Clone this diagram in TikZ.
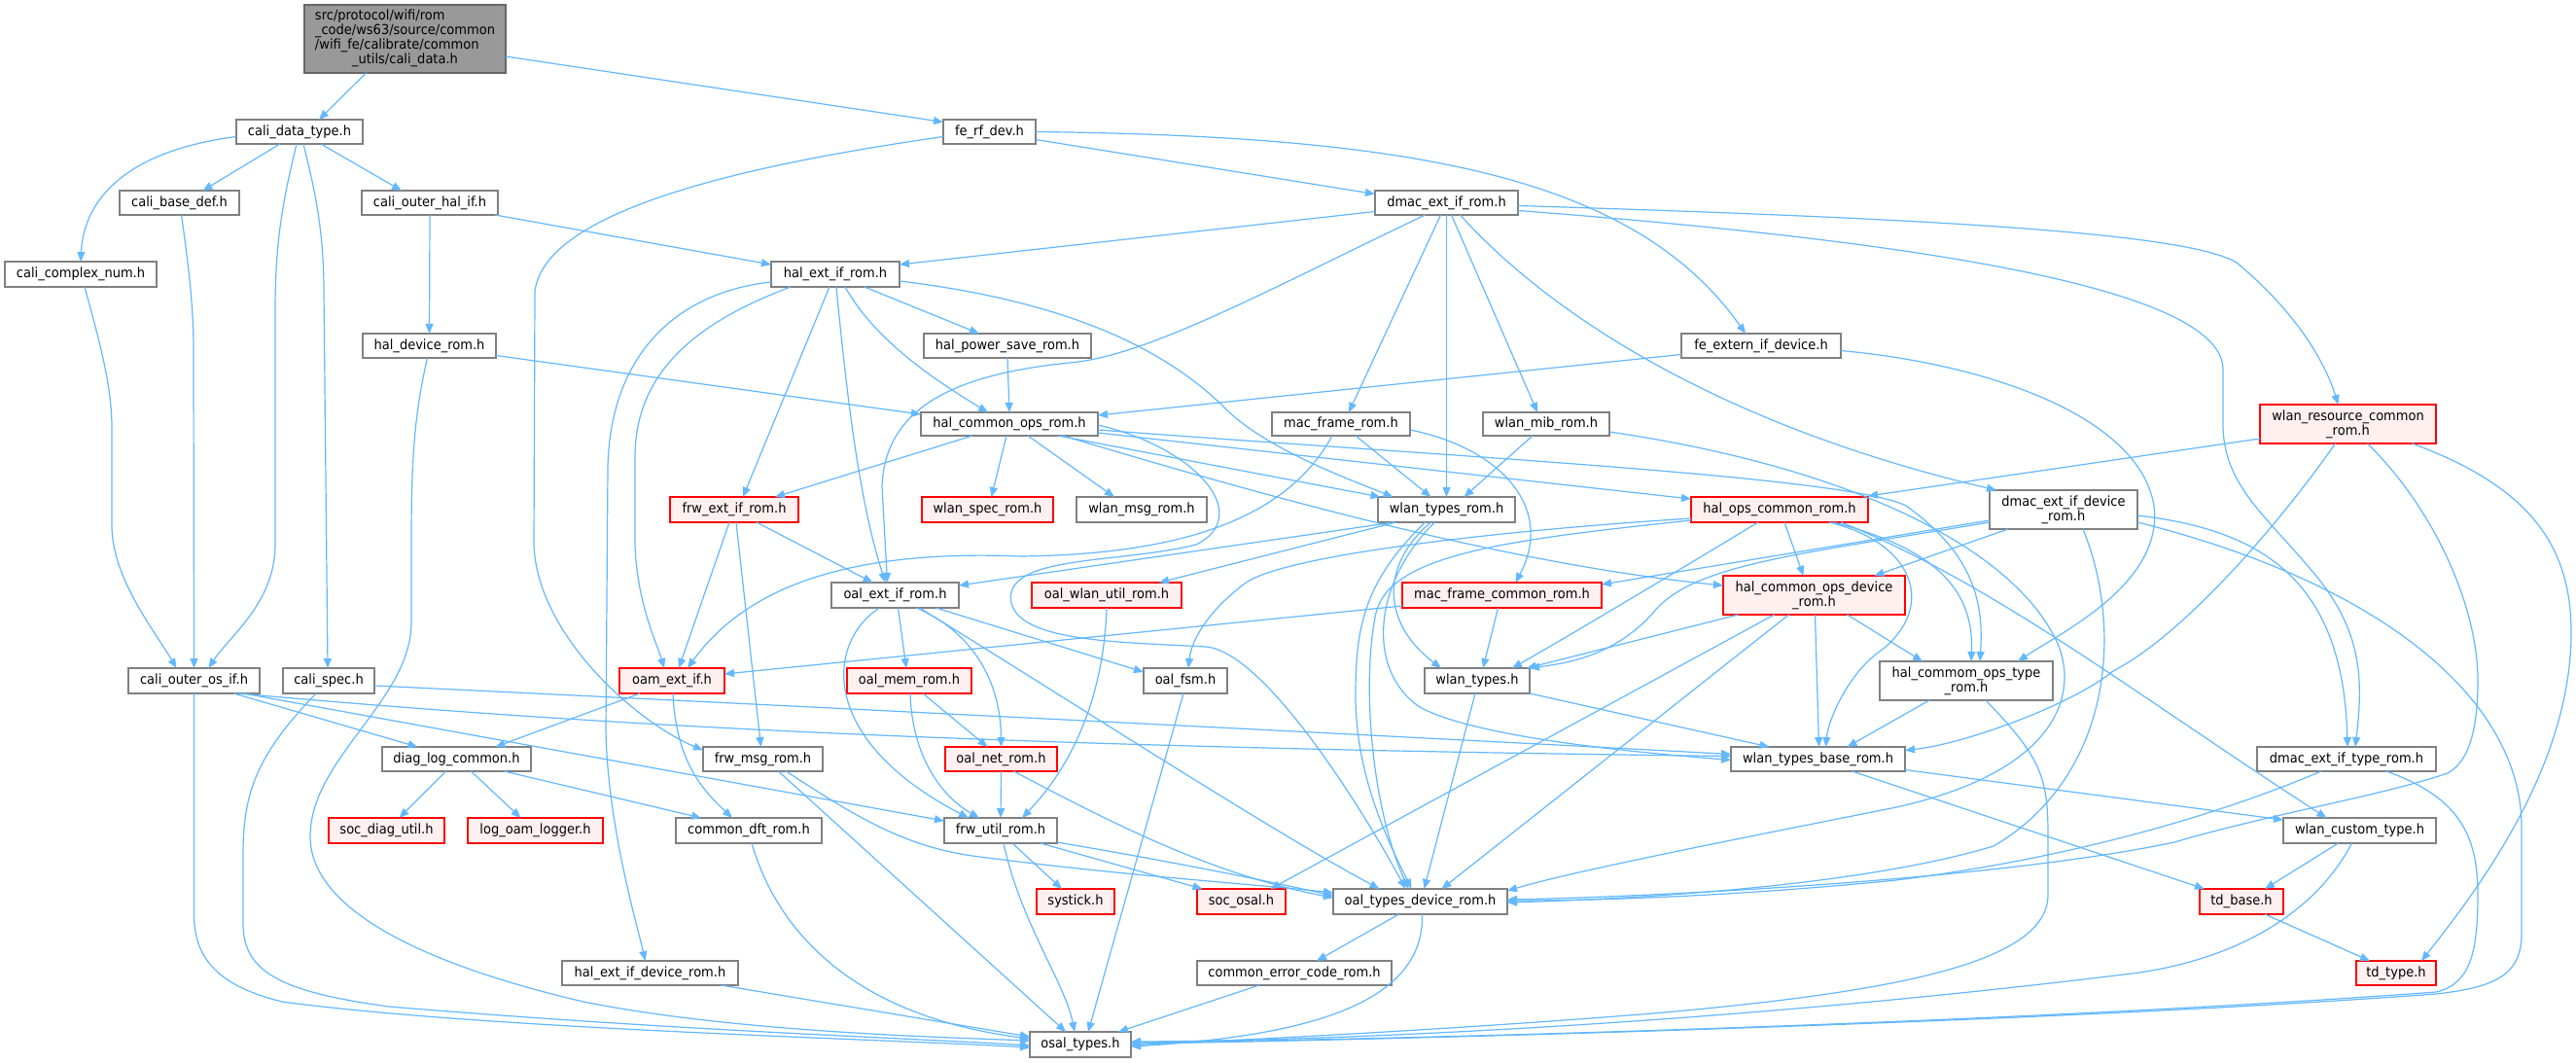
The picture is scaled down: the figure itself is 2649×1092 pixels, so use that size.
\documentclass[tikz,border=0pt]{standalone}
\usepackage{fontspec}
\newfontfamily\nodefont{DejaVu Sans}[FakeStretch=0.93]
\usetikzlibrary{arrows.meta}
\definecolor{edgeblue}{HTML}{63B8FF}
\definecolor{ndgray}{HTML}{808080}
\definecolor{rdfill}{HTML}{FFF0F0}
\definecolor{rootfill}{HTML}{999999}
\definecolor{rootdraw}{HTML}{666666}
\tikzset{
  gbox/.style={draw=ndgray, line width=1.5pt, fill=white, inner sep=0pt, outer sep=0pt, align=center, font=\nodefont\fontsize{14}{15}\selectfont},
  rbox/.style={gbox, draw=red, fill=rdfill},
  rootbox/.style={gbox, draw=rootdraw, fill=rootfill},
  edg/.style={draw=edgeblue, line width=1.2pt, -{Triangle[length=10pt,width=8pt]}},
}
\newcommand{\mk}[7]{\node[#1, minimum width={(#4)-(#3)}, minimum height={(#6)-(#5)}] (#2) at ({((#3)+(#4))/2},{((#5)+(#6))/2}) {#7};}
\begin{document}
\begin{tikzpicture}[x=1pt,y=-1pt]
\fill[white] (0,0) rectangle (2649,1092);
\useasboundingbox (0,0) rectangle (2649,1092);
% nodes
\mk{rootbox}{root}{313}{520}{5}{75}{\begin{tabular}{@{}l@{}}src/protocol/wifi/rom\\\_code/ws63/source/common\\/wifi\_fe/calibrate/common\\\multicolumn{1}{@{}c@{}}{\_utils/cali\_data.h}\end{tabular}}
\mk{gbox}{cdt}{243}{373}{123}{148}{cali\_data\_type.h}
\mk{gbox}{frd}{970}{1065}{123}{148}{fe\_rf\_dev.h}
\mk{gbox}{cbd}{123}{246}{196}{221}{cali\_base\_def.h}
\mk{gbox}{cohi}{372}{512}{196}{221}{cali\_outer\_hal\_if.h}
\mk{gbox}{deir}{1414}{1561}{196}{221}{dmac\_ext\_if\_rom.h}
\mk{gbox}{ccn}{5}{161}{269}{295}{cali\_complex\_num.h}
\mk{gbox}{heir}{793}{925}{269}{295}{hal\_ext\_if\_rom.h}
\mk{gbox}{hdr}{373}{510}{343}{368}{hal\_device\_rom.h}
\mk{gbox}{hpsr}{950}{1122}{343}{368}{hal\_power\_save\_rom.h}
\mk{gbox}{feid}{1729}{1893}{343}{368}{fe\_extern\_if\_device.h}
\mk{gbox}{hcor}{947}{1129}{424}{448}{hal\_common\_ops\_rom.h}
\mk{gbox}{mfr}{1308}{1450}{424}{448}{mac\_frame\_rom.h}
\mk{gbox}{wmibr}{1525}{1655}{424}{448}{wlan\_mib\_rom.h}
\mk{rbox}{wrcr}{2324}{2505}{416}{456}{wlan\_resource\_common\\\_rom.h}
\mk{rbox}{feir}{689}{821}{511}{537}{frw\_ext\_if\_rom.h}
\mk{rbox}{wsr}{948}{1083}{511}{537}{wlan\_spec\_rom.h}
\mk{gbox}{wmsgr}{1107}{1241}{511}{537}{wlan\_msg\_rom.h}
\mk{gbox}{wtr}{1417}{1558}{511}{537}{wlan\_types\_rom.h}
\mk{rbox}{hocr}{1739}{1921}{511}{537}{hal\_ops\_common\_rom.h}
\mk{gbox}{deidr}{2046}{2198}{504}{544}{dmac\_ext\_if\_device\\\_rom.h}
\mk{gbox}{oeir}{855}{986}{599}{625}{oal\_ext\_if\_rom.h}
\mk{rbox}{owur}{1061}{1215}{599}{625}{oal\_wlan\_util\_rom.h}
\mk{rbox}{mfcr}{1442}{1647}{599}{625}{mac\_frame\_common\_rom.h}
\mk{rbox}{hcodr}{1772}{1959}{592}{632}{hal\_common\_ops\_device\\\_rom.h}
\mk{gbox}{coos}{132}{267}{687}{713}{cali\_outer\_os\_if.h}
\mk{gbox}{cspec}{291}{385}{687}{713}{cali\_spec.h}
\mk{rbox}{oam}{637}{745}{687}{713}{oam\_ext\_if.h}
\mk{rbox}{omr}{871}{999}{687}{713}{oal\_mem\_rom.h}
\mk{gbox}{ofsm}{1176}{1262}{687}{713}{oal\_fsm.h}
\mk{gbox}{wt}{1465}{1573}{687}{713}{wlan\_types.h}
\mk{gbox}{hcotr}{1933}{2111}{680}{720}{hal\_commom\_ops\_type\\\_rom.h}
\mk{gbox}{dlc}{393}{546}{768}{793}{diag\_log\_common.h}
\mk{gbox}{fmr}{723}{846}{768}{793}{frw\_msg\_rom.h}
\mk{rbox}{onr}{972}{1087}{768}{793}{oal\_net\_rom.h}
\mk{gbox}{wtbr}{1780}{1959}{768}{793}{wlan\_types\_base\_rom.h}
\mk{gbox}{deitr}{2321}{2505}{768}{793}{dmac\_ext\_if\_type\_rom.h}
\mk{rbox}{sdu}{338}{457}{841}{867}{soc\_diag\_util.h}
\mk{rbox}{lol}{481}{620}{841}{867}{log\_oam\_logger.h}
\mk{gbox}{cdft}{695}{845}{841}{867}{common\_dft\_rom.h}
\mk{gbox}{fur}{971}{1087}{841}{867}{frw\_util\_rom.h}
\mk{gbox}{wct}{2348}{2505}{841}{867}{wlan\_custom\_type.h}
\mk{rbox}{syst}{1066}{1146}{914}{940}{systick.h}
\mk{rbox}{sosal}{1231}{1322}{914}{940}{soc\_osal.h}
\mk{gbox}{otdr}{1371}{1550}{914}{940}{oal\_types\_device\_rom.h}
\mk{rbox}{tdb}{2262}{2348}{914}{940}{td\_base.h}
\mk{gbox}{heidr}{578}{759}{988}{1013}{hal\_ext\_if\_device\_rom.h}
\mk{gbox}{cecr}{1231}{1431}{988}{1013}{common\_error\_code\_rom.h}
\mk{rbox}{tdt}{2423}{2505}{988}{1013}{td\_type.h}
\mk{gbox}{ost}{1059}{1163}{1061}{1087}{osal\_types.h}
% edges
\draw[edg] ([xshift=-40]root.south) -- ([xshift=20]cdt.north);
\draw[edg] ([yshift=-18]root.east) -- ([yshift=10]frd.west);
\draw[edg] ([yshift=-5]cdt.west) .. controls (130,155) and (86,205) .. (ccn.north);
\draw[edg] ([xshift=-20]cdt.south) -- ([xshift=24]cbd.north);
\draw[edg] ([xshift=22]cdt.south) -- ([xshift=-29]cohi.north);
\draw[edg] ([xshift=-3]cdt.south) .. controls (290,210) and (283,250) .. (283,320) -- (283,560) .. controls (283,620) and (235,655) .. ([xshift=15]coos.north);
\draw[edg] ([xshift=4]cdt.south) .. controls (325,200) and (333,240) .. (333,300) -- ([xshift=-1]cspec.north);
\draw[edg] ([xshift=2]cbd.south) .. controls (195,280) and (199,320) .. (199,360) -- (coos.north);
\draw[edg] ([xshift=4]ccn.south) .. controls (105,360) and (115,400) .. (115,440) -- (115,540) .. controls (115,595) and (160,650) .. ([xshift=-18]coos.north);
\draw[edg] (cohi.south) -- (hdr.north);
\draw[edg] ([xshift=67]cohi.south) -- ([yshift=10]heir.west);
\draw[edg] ([yshift=-10]hdr.east) -- ([yshift=10]hcor.west);
\draw[edg] ([xshift=-2]hdr.south) .. controls (425,430) and (423,480) .. (423,560) -- (423,640) .. controls (423,720) and (319,780) .. (319,860) .. controls (319,940) and (450,995) .. (600,1030) .. controls (750,1060) and (950,1066) .. ([yshift=4]ost.west);
\draw[edg] ([yshift=-8]frd.east) -- ([yshift=9]deir.west);
\draw[edg] (frd.east) .. controls (1450,140) and (1680,180) .. ([xshift=-16]feid.north);
\draw[edg] ([yshift=-5]frd.west) .. controls (800,165) and (560,210) .. (550,300) -- (549,560) .. controls (552,650) and (650,740) .. ([yshift=9]fmr.west);
\draw[edg] ([yshift=-9]deir.west) -- ([yshift=10]heir.east);
\draw[edg] ([xshift=-22]deir.south) .. controls (1300,300) and (1180,366) .. (1100,373) .. controls (980,385) and (910,420) .. (907,500) -- ([xshift=-8]oeir.north);
\draw[edg] ([xshift=-6]deir.south) -- ([xshift=8]mfr.north);
\draw[edg] (deir.south) -- (wtr.north);
\draw[edg] ([xshift=5]deir.south) -- ([xshift=-9]wmibr.north);
\draw[edg] ([xshift=14]deir.south) .. controls (1600,330) and (1780,440) .. ([xshift=-69]deidr.north);
\draw[edg] ([yshift=-3]deir.east) .. controls (2000,225) and (2250,240) .. (2300,270) .. controls (2360,320) and (2390,370) .. ([xshift=-10]wrcr.north);
\draw[edg] ([yshift=-8]deir.east) .. controls (2000,250) and (2286,300) .. (2286,380) -- (2286,440) .. controls (2288,500) and (2330,530) .. (2380,590) .. controls (2430,650) and (2430,700) .. ([xshift=9]deitr.north);
\draw[edg] ([yshift=-8]heir.west) .. controls (700,300) and (628,360) .. (625,480) -- (623,751) .. controls (625,850) and (655,950) .. ([xshift=-5]heidr.north);
\draw[edg] ([xshift=-46]heir.south) .. controls (720,330) and (653,380) .. (653,470) -- (653,560) .. controls (655,620) and (675,660) .. ([xshift=-8]oam.north);
\draw[edg] ([xshift=1]heir.south) .. controls (872,420) and (885,520) .. ([xshift=-10]oeir.north);
\draw[edg] ([xshift=-6]heir.south) -- ([xshift=9]feir.north);
\draw[edg] ([xshift=10]heir.south) .. controls (900,350) and (960,390) .. ([xshift=-22]hcor.north);
\draw[edg] ([xshift=30]heir.south) -- ([xshift=-29]hpsr.north);
\draw[edg] ([yshift=-7]heir.east) .. controls (1100,310) and (1200,360) .. (1260,420) .. controls (1300,460) and (1380,490) .. ([xshift=-55]wtr.north);
\draw[edg] (hpsr.south) -- (hcor.north);
\draw[edg] ([yshift=-9]feid.west) -- ([yshift=9]hcor.east);
\draw[edg] ([yshift=-5]feid.east) .. controls (2050,375) and (2200,430) .. (2215,520) .. controls (2225,600) and (2120,650) .. ([xshift=53]hcotr.north);
\draw[edg] ([xshift=-38]hcor.south) -- ([xshift=42]feir.north);
\draw[edg] ([xshift=-3]hcor.south) -- ([xshift=4]wsr.north);
\draw[edg] ([xshift=19]hcor.south) -- ([xshift=-28]wmsgr.north);
\draw[edg] ([xshift=50]hcor.south) -- ([xshift=-68]wtr.north);
\draw[edg] ([yshift=-9]hcor.east) -- ([yshift=11]hocr.west);
\draw[edg] ([xshift=55]hcor.south) .. controls (1300,510) and (1550,580) .. ([yshift=10]hcodr.west);
\draw[edg] ([yshift=-6]hcor.east) .. controls (1500,470) and (1900,490) .. (1960,520) .. controls (2030,570) and (2040,620) .. ([xshift=14]hcotr.north);
\draw[edg] ([yshift=-1]hcor.east) .. controls (1230,460) and (1290,530) .. (1230,560) .. controls (1150,580) and (1030,570) .. (1040,620) .. controls (1050,660) and (1150,660) .. (1240,665) .. controls (1300,670) and (1400,830) .. ([xshift=-15]otdr.north);
\draw[edg] ([xshift=15]mfr.south) -- ([xshift=-16]wtr.north);
\draw[edg] ([xshift=-9]mfr.south) .. controls (1320,540) and (1200,570) .. (1050,572) .. controls (880,565) and (770,600) .. ([xshift=16]oam.north);
\draw[edg] ([yshift=-6]mfr.east) .. controls (1540,460) and (1600,520) .. ([xshift=14]mfcr.north);
\draw[edg] ([xshift=-14]wmibr.south) -- ([xshift=18]wtr.north);
\draw[edg] ([yshift=-8]wmibr.east) .. controls (1900,480) and (2060,560) .. (2110,650) .. controls (2140,700) and (2130,790) .. (1950,830) .. controls (1800,860) and (1620,895) .. ([yshift=11]otdr.east);
\draw[edg] ([xshift=5]hocr.south) -- ([xshift=-11]hcodr.north);
\draw[edg] ([xshift=-22]hocr.south) .. controls (1720,590) and (1620,650) .. ([xshift=36]wt.north);
\draw[edg] ([xshift=51]hocr.south) .. controls (1975,560) and (1990,630) .. (1930,672) .. controls (1900,695) and (1880,740) .. ([xshift=8]wtbr.north);
\draw[edg] ([xshift=55]hocr.south) .. controls (1995,565) and (2030,610) .. ([xshift=5]hcotr.north);
\draw[edg] ([xshift=63]hocr.south) .. controls (2050,600) and (2190,710) .. ([xshift=-34]wct.north);
\draw[edg] ([yshift=-9]hocr.west) .. controls (1550,545) and (1320,570) .. (1280,600) .. controls (1240,630) and (1225,660) .. ([xshift=3]ofsm.north);
\draw[edg] ([yshift=-11]hocr.west) .. controls (1550,555) and (1430,570) .. (1415,630) .. controls (1400,700) and (1410,830) .. ([xshift=-12]otdr.north);
\draw[edg] ([xshift=-78]hcodr.south) -- ([xshift=51]wt.north);
\draw[edg] ([xshift=-41]hcodr.south) -- ([xshift=30]sosal.north);
\draw[edg] ([xshift=-26]hcodr.south) -- ([xshift=22]otdr.north);
\draw[edg] ([xshift=1]hcodr.south) -- ([xshift=1]wtbr.north);
\draw[edg] ([xshift=34]hcodr.south) -- ([xshift=-45]hcotr.north);
\draw[edg] ([xshift=-38]hcotr.south) -- ([xshift=30]wtbr.north);
\draw[edg] ([xshift=20]hcotr.south) .. controls (2100,780) and (2106,800) .. (2106,860) -- (2106,920) .. controls (2106,990) and (1950,1020) .. (1700,1042) .. controls (1450,1062) and (1250,1070) .. ([yshift=-1]ost.east);
\draw[edg] ([yshift=-11]wtbr.east) -- ([yshift=11]wct.west);
\draw[edg] ([xshift=35]wtbr.south) -- ([xshift=-38]tdb.north);
\draw[edg] ([xshift=-57]deidr.south) -- ([xshift=62]hcodr.north);
\draw[edg] ([yshift=-11]deidr.west) -- ([yshift=11]mfcr.east);
\draw[edg] ([yshift=-13]deidr.west) .. controls (1850,570) and (1740,580) .. (1700,630) .. controls (1660,675) and (1610,682) .. ([yshift=13]wt.east);
\draw[edg] ([xshift=20]deidr.south) .. controls (2185,650) and (2170,800) .. (2050,870) .. controls (1900,915) and (1650,925) .. ([yshift=-1]otdr.east);
\draw[edg] ([yshift=-6]deidr.east) .. controls (2330,545) and (2410,600) .. ([xshift=1]deitr.north);
\draw[edg] ([yshift=-13]deidr.east) .. controls (2450,600) and (2593,720) .. (2593,850) -- (2593,960) .. controls (2593,1000) and (2570,1015) .. (2505,1022) .. controls (2100,1052) and (1400,1070) .. ([yshift=1]ost.east);
\draw[edg] ([yshift=-15]wrcr.west) -- ([yshift=14]hocr.east);
\draw[edg] ([xshift=-13]wrcr.south) .. controls (2350,530) and (2250,650) .. (2173,690) .. controls (2130,725) and (2020,765) .. ([yshift=9]wtbr.east);
\draw[edg] ([xshift=20]wrcr.south) .. controls (2500,520) and (2548,620) .. (2548,700) .. controls (2548,760) and (2535,785) .. (2517,795) .. controls (2450,818) and (2330,838) .. (2236,866) .. controls (2050,905) and (1700,922) .. ([yshift=2]otdr.east);
\draw[edg] ([xshift=66]wrcr.south) .. controls (2600,500) and (2644,560) .. (2644,650) .. controls (2644,780) and (2560,900) .. ([xshift=26]tdt.north);
\draw[edg] ([xshift=-26]deitr.south) .. controls (2300,830) and (2150,880) .. (1950,905) .. controls (1750,925) and (1600,926) .. ([yshift=1]otdr.east);
\draw[edg] ([xshift=41]deitr.south) .. controls (2530,820) and (2548,860) .. (2548,920) .. controls (2548,980) and (2540,1012) .. (2505,1020) .. controls (2100,1050) and (1500,1068) .. ([yshift=2]ost.east);
\draw[edg] ([xshift=-22]wct.south) -- ([xshift=24]tdb.north);
\draw[edg] ([xshift=-8]wct.south) .. controls (2380,940) and (2300,985) .. (2200,1000) .. controls (1800,1050) and (1400,1070) .. ([yshift=3]ost.east);
\draw[edg] ([xshift=24]tdb.south) -- ([xshift=-27]tdt.north);
\draw[edg] ([xshift=-22]otdr.south) -- ([xshift=23]cecr.north);
\draw[edg] ([xshift=2]otdr.south) .. controls (1465,1030) and (1350,1065) .. ([yshift=-2]ost.east);
\draw[edg] ([xshift=-36]cecr.south) -- ([xshift=39]ost.north);
\draw[edg] ([xshift=-2]wt.south) -- ([xshift=4]otdr.north);
\draw[edg] ([yshift=-13]wt.east) -- ([xshift=-50]wtbr.north);
\draw[edg] ([xshift=-4]mfcr.south) -- ([xshift=6]wt.north);
\draw[edg] ([yshift=-11]mfcr.west) -- ([yshift=7]oam.east);
\draw[edg] ([xshift=-52]wtr.south) -- ([xshift=54]owur.north);
\draw[edg] ([xshift=-54]wtr.south) -- ([yshift=10]oeir.east);
\draw[edg] ([xshift=-16]wtr.south) .. controls (1420,580) and (1420,640) .. ([xshift=-37]wt.north);
\draw[edg] ([xshift=-22]wtr.south) .. controls (1400,600) and (1394,650) .. (1394,716) .. controls (1394,800) and (1430,870) .. ([xshift=-9]otdr.north);
\draw[edg] ([xshift=-12]wtr.south) .. controls (1411,600) and (1405,690) .. (1460,727) .. controls (1520,760) and (1700,775) .. ([yshift=-1]wtbr.west);
\draw[edg] (owur.south) .. controls (1135,720) and (1100,790) .. ([xshift=22]fur.north);
\draw[edg] ([xshift=3]oeir.south) -- ([xshift=-3]omr.north);
\draw[edg] ([xshift=-16]oeir.south) .. controls (850,660) and (840,760) .. ([xshift=-33]fur.north);
\draw[edg] ([xshift=22]oeir.south) .. controls (1000,650) and (1029,700) .. (onr.north);
\draw[edg] ([xshift=42]oeir.south) -- ([yshift=9]ofsm.west);
\draw[edg] ([xshift=25]oeir.south) .. controls (1100,720) and (1300,850) .. ([xshift=-42]otdr.north);
\draw[edg] ([xshift=-33]oam.south) -- ([xshift=40]dlc.north);
\draw[edg] ([xshift=1]oam.south) .. controls (695,780) and (720,810) .. ([xshift=-17]cdft.north);
\draw[edg] ([xshift=14]omr.south) -- ([xshift=-14]onr.north);
\draw[edg] ([xshift=1]omr.south) .. controls (938,780) and (970,820) .. ([xshift=-22]fur.north);
\draw[edg] ([xshift=-2]ofsm.south) -- ([xshift=8]ost.north);
\draw[edg] (onr.south) -- (fur.north);
\draw[edg] ([xshift=13]onr.south) .. controls (1150,850) and (1250,900) .. ([yshift=4]otdr.west);
\draw[edg] ([xshift=16]fmr.south) -- ([xshift=-15]ost.north);
\draw[edg] ([xshift=24]fmr.south) .. controls (880,840) and (930,870) .. (1000,880) .. controls (1150,900) and (1300,910) .. ([yshift=9]otdr.west);
\draw[edg] ([xshift=12]fur.south) -- ([xshift=-14]syst.north);
\draw[edg] ([xshift=41]fur.south) -- ([xshift=-40]sosal.north);
\draw[edg] ([yshift=-12]fur.east) .. controls (1200,885) and (1300,905) .. ([yshift=6]otdr.west);
\draw[edg] ([xshift=3]fur.south) .. controls (1050,950) and (1095,1010) .. ([xshift=-6]ost.north);
\draw[edg] ([xshift=-11]dlc.south) -- ([xshift=13]sdu.north);
\draw[edg] ([xshift=15]dlc.south) -- ([xshift=-15]lol.north);
\draw[edg] ([xshift=49]dlc.south) -- ([xshift=-49]cdft.north);
\draw[edg] (coos.south) -- (199.5,940) .. controls (199.5,990) and (230,1015) .. (290,1030) .. controls (500,1058) and (900,1068) .. ([yshift=-3]ost.west);
\draw[edg] ([xshift=41]coos.south) -- ([xshift=-40]dlc.north);
\draw[edg] ([xshift=46]coos.south) .. controls (600,745) and (1000,768) .. ([yshift=3]wtbr.west);
\draw[edg] ([xshift=51]coos.south) -- ([yshift=10]fur.west);
\draw[edg] ([xshift=-13]cspec.south) .. controls (260,780) and (250,820) .. (250,880) -- (250,950) .. controls (250,1000) and (290,1020) .. (400,1035) .. controls (700,1060) and (950,1068) .. ([yshift=-1]ost.west);
\draw[edg] ([yshift=-5]cspec.east) .. controls (800,725) and (1400,755) .. ([yshift=5]wtbr.west);
\draw[edg] ([xshift=73]heidr.south) -- ([yshift=8]ost.west);
\draw[edg] ([xshift=3]cdft.south) .. controls (800,960) and (880,1045) .. ([yshift=6]ost.west);
\draw[edg] ([xshift=-5]feir.south) -- ([xshift=7]oam.north);
\draw[edg] ([xshift=23]feir.south) -- ([xshift=-23]oeir.north);
\draw[edg] ([xshift=2]feir.south) -- ([xshift=-2]fmr.north);
\end{tikzpicture}
\end{document}
